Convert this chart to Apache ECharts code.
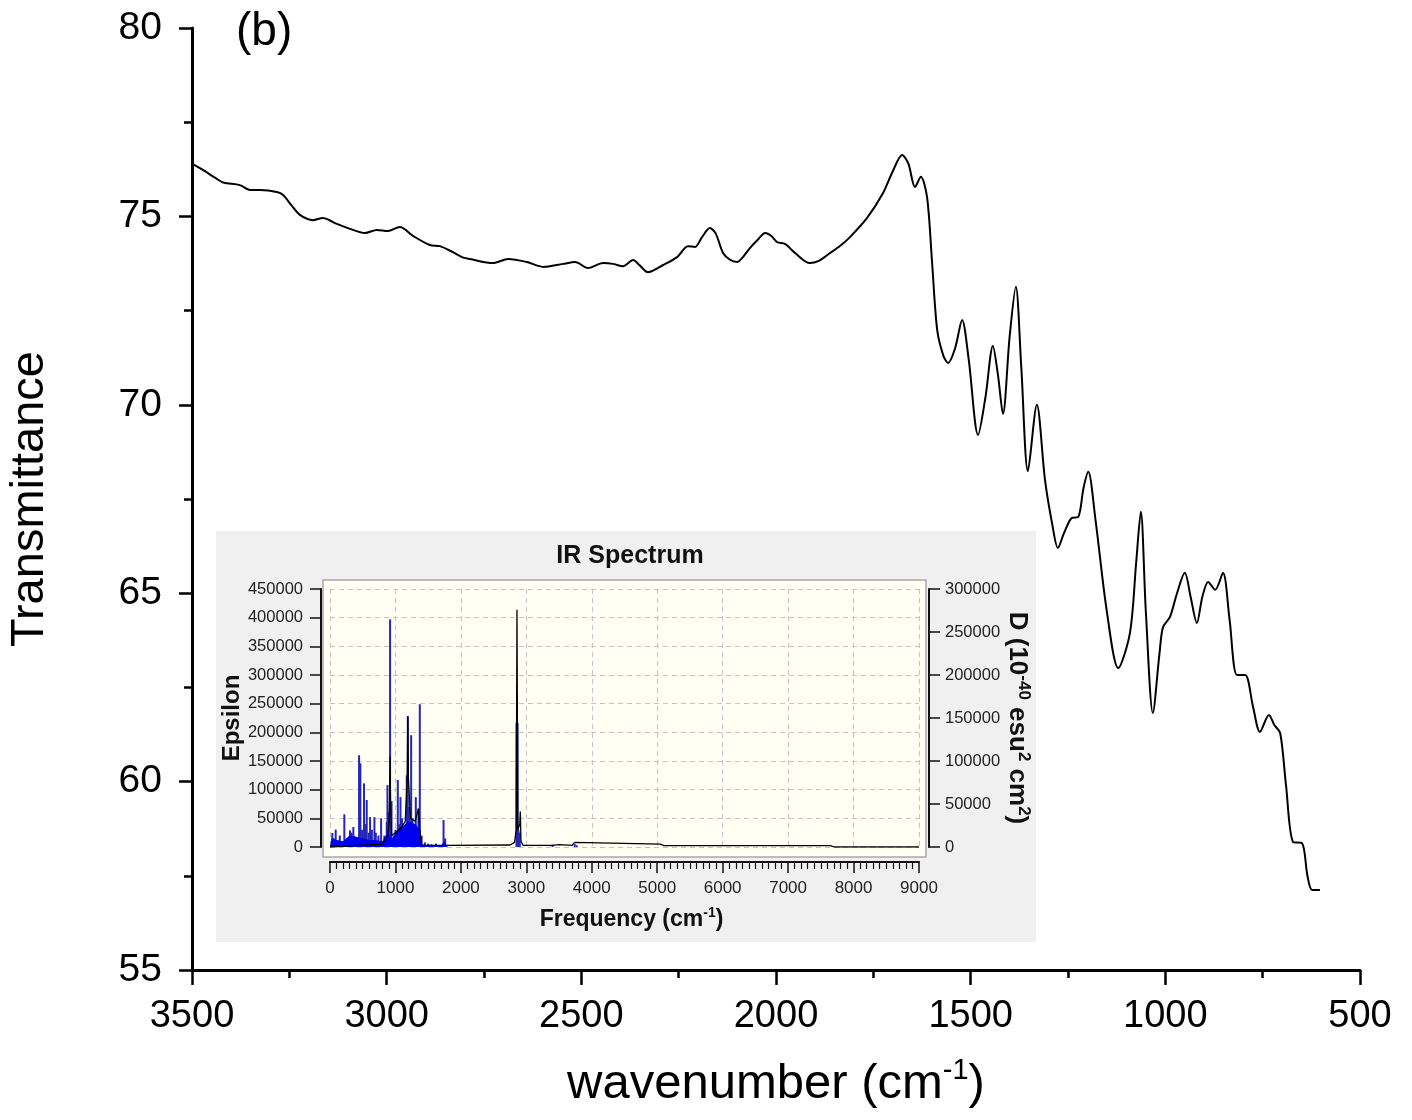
<!DOCTYPE html>
<html><head><meta charset="utf-8">
<script src="https://cdn.jsdelivr.net/npm/echarts/dist/echarts.min.js"></script>
<style>html,body{margin:0;padding:0;background:#fff}#c{width:1412px;height:1120px}</style>
</head><body><div id="c"></div><script>
// ---- main FTIR spectrum (wavenumber, transmittance) ----
const mainWavenumber = [3500,3470,3440,3420,3377,3351,3325,3282,3266,3245,3223,3189,3164,3128,3094,3056,3025,2997,2966,2932,2889,2863,2830,2807,2786,2727,2688,2640,2598,2547,2516,2483,2444,2419,2393,2367,2350,2329,2290,2254,2226,2208,2190,2170,2155,2136,2118,2100,2085,2067,2045,2028,2012,1997,1977,1950,1913,1890,1861,1835,1810,1766,1725,1700,1676,1660,1643,1628,1612,1599,1586,1570,1558,1540,1522,1505,1481,1462,1443,1430,1417,1400,1384,1370,1353,1330,1309,1290,1276,1260,1240,1224,1210,1198,1180,1150,1121,1091,1075,1063,1050,1032,1015,1006,988,970,950,935,919,905,890,872,852,835,816,795,775,757,734,720,705,690,672,649,635,623,603];
const mainTransmittance = [76.40,76.22,76.02,75.90,75.83,75.70,75.70,75.65,75.57,75.30,75.04,74.90,74.96,74.80,74.67,74.56,74.64,74.61,74.72,74.48,74.24,74.21,74.05,73.92,73.87,73.76,73.87,73.79,73.66,73.74,73.79,73.63,73.76,73.74,73.68,73.84,73.70,73.52,73.71,73.92,74.21,74.19,74.45,74.69,74.55,74.03,73.85,73.79,73.92,74.16,74.40,74.56,74.48,74.32,74.27,74.02,73.76,73.82,74.03,74.22,74.45,74.96,75.62,76.20,76.63,76.40,75.78,76.05,75.51,73.76,71.99,71.30,71.11,71.50,72.25,71.20,69.20,70.20,71.56,70.80,69.76,71.80,73.13,71.00,68.24,70.00,68.00,66.80,66.20,66.60,67.00,67.02,67.80,68.22,67.00,64.50,63.01,63.94,65.80,67.16,64.50,61.82,63.40,64.10,64.37,65.00,65.54,64.90,64.21,64.90,65.30,65.09,65.54,64.30,62.83,62.83,62.00,61.32,61.77,61.50,61.29,59.90,58.40,58.37,57.50,57.12,57.12];
const mainXTicks = [3500,3000,2500,2000,1500,1000,500];
const mainYTicks = [55,60,65,70,75,80];

// ---- inset: computed IR spectrum ----
const stickFreq = [36,60,87,110,150,219,260,306,330,357,380,444,464,490,520,545,561,590,612,640,679,700,740,781,830,867,878,900,918,940,980,1000,1036,1060,1077,1100,1130,1173,1189,1210,1240,1260,1280,1311,1330,1352,1372,1400,1450,1500,1550,1620,1735,1760,2850,2858,2866,2880,2900,3400,3740,3770];
const stickEpsilon = [24500,15000,30300,12000,20000,57000,15000,29000,25000,35000,18000,160000,146000,30000,111000,40000,82000,25000,52000,30000,52000,25000,20000,50000,20000,44000,108000,60000,397000,80000,20000,30000,117000,40000,87000,50000,30000,125000,228000,70000,195000,50000,40000,87000,30000,67000,249000,20000,8000,6000,5000,6000,47000,15000,216000,216000,216000,30000,25000,4000,5000,3000];
const fillFreq = [0,20,100,200,300,400,500,600,700,800,880,950,1000,1100,1200,1300,1380,1400,1500,1700,1750,1800];
const fillEpsilon = [0,15000,12000,10000,20000,18000,15000,12000,12000,10000,25000,15000,25000,35000,45000,40000,30000,5000,3000,3000,10000,0];
const lineFreq = [0,800,880,900,910,918,925,940,1000,1100,1150,1180,1189,1198,1230,1300,1352,1370,1400,1800,1820,2750,2820,2845,2857,2870,2900,2908,2918,2950,3400,3420,3500,3700,3740,3760,5050,5100,7650,7700,9000];
const lineValue = [0,5000,20000,40000,80000,158000,80000,20000,25000,35000,45000,120000,228000,120000,50000,45000,67000,30000,3000,3000,4500,3500,8000,30000,414000,30000,40000,62000,10000,3000,3000,6000,4000,3000,8000,5000,5000,2500,2500,0,0];
const insetXTicks = [0,1000,2000,3000,4000,5000,6000,7000,8000,9000];
const insetLeftTicks = [0,50000,100000,150000,200000,250000,300000,350000,400000,450000];
const insetRightTicks = [0,50000,100000,150000,200000,250000,300000];

const zip = (a,b) => a.map((v,i)=>[v,b[i]]);
const FONT = "'Liberation Sans', Arial, sans-serif";
const plain = v => String(v);

const chart = echarts.init(document.getElementById('c'), null, {renderer:'canvas'});
chart.setOption({
  animation:false,
  backgroundColor:'#ffffff',
  title:[
    {text:'(b)', left:231, top:4, textStyle:{fontSize:46, fontWeight:'normal', fontFamily:FONT, color:'#000'}},
    {text:'IR Spectrum', left:625, top:539, textAlign:'center', textStyle:{fontSize:25, fontWeight:'bold', fontFamily:FONT, color:'#111'}}
  ],
  graphic:[
    {type:'rect', z:-10, shape:{x:216,y:531,width:820,height:411}, style:{fill:'#f0f0f0'}},
    {type:'rect', z:-9, shape:{x:323,y:580,width:603,height:277}, style:{fill:'#fffff4', stroke:'#a8a8a8', lineWidth:1.5}}
  ],
  grid:[
    {left:192, right:52, top:28, bottom:150, containLabel:false, outerBoundsMode:'none'},
    {left:330, width:589, top:589, height:258, containLabel:false, outerBoundsMode:'none'}
  ],
  xAxis:[
    {type:'value', gridIndex:0, inverse:true, min:500, max:3500, interval:500,
     name:'{a|wavenumber (cm}{s|-1}{a|)}', nameLocation:'middle', nameGap:86,
     nameTextStyle:{rich:{a:{fontSize:49, fontFamily:FONT, color:'#000', lineHeight:56}, s:{fontSize:29, fontFamily:FONT, color:'#000', verticalAlign:'top', lineHeight:29}}},
     axisLine:{show:true, lineStyle:{color:'#000', width:3}},
     axisTick:{show:true, inside:false, length:15, lineStyle:{color:'#000', width:2.5}},
     minorTick:{show:true, splitNumber:2, length:8, lineStyle:{color:'#000', width:2.5}},
     splitLine:{show:false}, minorSplitLine:{show:false},
     axisLabel:{fontSize:38, fontFamily:FONT, color:'#000', margin:28, formatter:plain}},
    {type:'value', gridIndex:1, min:0, max:9000, interval:1000, offset:15,
     name:'{a|Frequency (cm}{s|-1}{a|)}', nameLocation:'middle', nameGap:44,
     nameTextStyle:{padding:[0,0,0,14], rich:{a:{fontSize:23, fontWeight:'bold', fontFamily:FONT, color:'#111', lineHeight:28}, s:{fontSize:14, fontWeight:'bold', fontFamily:FONT, color:'#111', verticalAlign:'top', lineHeight:14}}},
     axisLine:{show:true, onZero:false, lineStyle:{color:'#111', width:2}},
     axisTick:{show:true, inside:false, length:11, lineStyle:{color:'#111', width:1.5}},
     minorTick:{show:true, splitNumber:10, length:7, lineStyle:{color:'#111', width:1.2}},
     splitLine:{show:true, lineStyle:{color:'#c4c4c4', width:1, type:[5,4]}},
     axisLabel:{fontSize:17, fontFamily:FONT, color:'#222', margin:18, formatter:plain}}
  ],
  yAxis:[
    {type:'value', gridIndex:0, min:55, max:80, interval:5,
     name:'Transmittance', nameLocation:'middle', nameGap:138,
     nameTextStyle:{fontSize:47, fontFamily:FONT, color:'#000'},
     axisLine:{show:true, lineStyle:{color:'#000', width:3}},
     axisTick:{show:true, inside:false, length:13, lineStyle:{color:'#000', width:2.5}},
     minorTick:{show:true, splitNumber:2, length:8, lineStyle:{color:'#000', width:2.5}},
     splitLine:{show:false}, minorSplitLine:{show:false},
     axisLabel:{fontSize:39, fontFamily:FONT, color:'#000', margin:30, formatter:plain}},
    {type:'value', gridIndex:1, min:0, max:450000, interval:50000, offset:9, position:'left',
     name:'Epsilon', nameLocation:'middle', nameGap:74,
     nameTextStyle:{fontSize:24, fontWeight:'bold', fontFamily:FONT, color:'#111'},
     axisLine:{show:true, onZero:false, lineStyle:{color:'#111', width:2}},
     axisTick:{show:true, inside:false, length:11, lineStyle:{color:'#111', width:1.5}},
     splitLine:{show:true, lineStyle:{color:'#c4c4c4', width:1, type:[5,4]}},
     axisLabel:{fontSize:16.5, fontFamily:FONT, color:'#222', margin:18, formatter:plain}},
    {type:'value', gridIndex:1, min:0, max:300000, interval:50000, offset:10, position:'right',
     name:'{a|D (10}{s|-40}{a| esu}{s|2}{a| cm}{s|2}{a|)}', nameLocation:'middle', nameGap:68, nameRotate:-90,
     nameTextStyle:{rich:{a:{fontSize:26, fontWeight:'bold', fontFamily:FONT, color:'#111', lineHeight:31}, s:{fontSize:17, fontWeight:'bold', fontFamily:FONT, color:'#111', verticalAlign:'top', lineHeight:17}}},
     axisLine:{show:true, onZero:false, lineStyle:{color:'#111', width:2}},
     axisTick:{show:true, inside:false, length:11, lineStyle:{color:'#111', width:1.5}},
     splitLine:{show:false},
     axisLabel:{fontSize:16.5, fontFamily:FONT, color:'#222', margin:16, formatter:plain}}
  ],
  series:[
    {type:'line', xAxisIndex:0, yAxisIndex:0, data:zip(mainWavenumber, mainTransmittance),
     smooth:0.3, showSymbol:false, lineStyle:{color:'#000', width:2}, z:5},
    {type:'line', xAxisIndex:1, yAxisIndex:1, data:zip(fillFreq, fillEpsilon),
     showSymbol:false, lineStyle:{width:0, color:'#0000ee'}, areaStyle:{color:'#0000f0', opacity:1}},
    {type:'bar', xAxisIndex:1, yAxisIndex:1, data:zip(stickFreq, stickEpsilon),
     barWidth:2, itemStyle:{color:'#2626b8'}},
    {type:'line', xAxisIndex:1, yAxisIndex:1, data:zip(lineFreq, lineValue),
     showSymbol:false, lineStyle:{color:'#000', width:1.3}}
  ]
});
</script></body></html>
